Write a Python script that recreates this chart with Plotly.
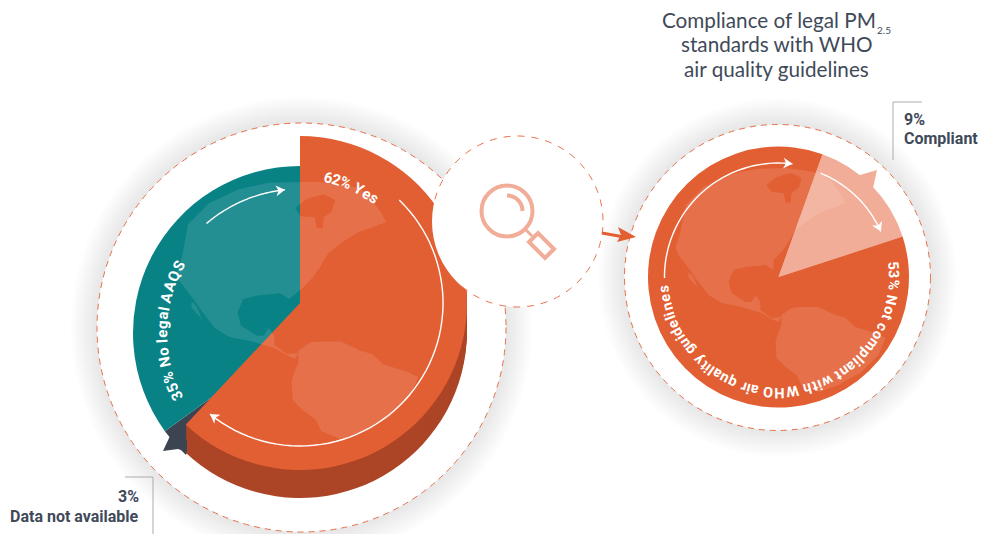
import numpy as np
import plotly.graph_objects as go

# ---- data ----
aaqs_labels = ["Yes", "Data not available", "No legal AAQS"]
aaqs_values = [62, 3, 35]
who_labels = ["Compliant", "Not compliant with WHO air quality guidelines"]
who_values = [9, 53]

W, H = 982, 534
ORANGE, DARK, TEAL, SLATE, PALE = "#E25F33", "#AC4526", "#098286", "#3D4451", "#F1AD98"
TXT = "#3F4A59"
CLEAR = "rgba(0,0,0,0)"
fig = go.Figure()
# invisible carrier of the pixel-space overlay axes
fig.add_trace(go.Scatter(x=[0, W], y=[0, H], mode="none", hoverinfo="skip", showlegend=False))


def add_pie(cx, cy, r, values, labels, colors, rotation=0):
    fig.add_trace(go.Pie(values=values, labels=labels, sort=False, direction="clockwise", rotation=rotation,
                         marker=dict(colors=colors, line=dict(width=0)), textinfo="none", showlegend=False,
                         hoverinfo="label+value",
                         domain=dict(x=[(cx - r) / W, (cx + r) / W], y=[1 - (cy + r) / H, 1 - (cy - r) / H])))


# left: teal + slate wedge sit lower, orange on a raised block
add_pie(300, 333, 167, aaqs_values, aaqs_labels, [CLEAR, SLATE, TEAL])
for d in range(28, 0, -2):
    add_pie(300, 303 + d, 167, aaqs_values, aaqs_labels, [DARK, CLEAR, CLEAR])
add_pie(300, 303, 167, aaqs_values, aaqs_labels, [ORANGE, CLEAR, CLEAR])
# right
add_pie(778.5, 277, 130.5, who_values, who_labels, [PALE, ORANGE], rotation=19.7)

shapes = []


def poly(pts, fill, close=True, layer="above", **line):
    p = "M" + " L".join(f"{x:.1f},{y:.1f}" for x, y in pts) + (" Z" if close else "")
    shapes.append(dict(type="path", path=p, xref="x", yref="y", layer=layer, fillcolor=fill,
                       line=dict(width=line.get("width", 0), color=line.get("color", CLEAR), dash=line.get("dash", "solid"))))


def circle(cx, cy, r, fill, layer="below", width=0, color=CLEAR, dash="solid"):
    shapes.append(dict(type="circle", xref="x", yref="y", x0=cx - r, x1=cx + r, y0=cy - r, y1=cy + r, layer=layer,
                       fillcolor=fill, line=dict(width=width, color=color, dash=dash)))


def arc(cx, cy, r, a0, a1, n=60):
    t = np.radians(np.linspace(a0, a1, n))
    return list(zip(cx + r * np.sin(t), cy - r * np.cos(t)))


def halo(cx, cy, r):
    for i in range(12, 0, -1):
        circle(cx, cy, r + 2.2 * i, "rgba(0,0,0,0.007)")
    circle(cx, cy, r, "#FFFFFF", width=1, color="#E8704A", dash="6px,5px")


halo(301.5, 327.5, 204.5)
halo(777.5, 277.5, 153)

# continents, traced around the globe centre (pixel offsets on the right-hand globe)
north_america = [(-93,-72),(-75,-90),(-50,-102),(-23,-108),(7,-109),(23,-107),(42,-104),(52,-97),(63,-82),(67,-74),
                 (57,-70),(43,-65),(30,-57),(17,-47),(10,-35),(3,-25),(-5,-17),(-5,-7),(-13,-12),(-33,-10),(-45,-7),
                 (-50,5),(-47,16),(-33,25),(-27,25),(-23,18),(-18,25),(-18,33),(-7,41),(3,40),(0,45),(-5,43),
                 (-17,36),(-37,30),(-57,26),(-70,18),(-80,5),(-90,-9),(-100,-22),(-103,-29),(-98,-45)]
hudson_bay = [(-12,-92),(-2,-100),(13,-104),(23,-99),(20,-89),(13,-84),(12,-74),(7,-75),(5,-84),(-7,-85)]
baja = [(-90,-5),(-85,0),(-80,13),(-83,8),(-90,1)]
south_america = [(3,38),(13,31),(23,30),(40,30),(57,38),(67,41),(77,50),(97,56),(107,61),(100,78),(83,95),(60,108),
                 (40,115),(23,108),(18,98),(7,90),(-2,81),(-3,65),(0,55),(3,48)]


def continents(cx, cy, s, east_shift=0):
    path = ""
    for ring in (north_america, hudson_bay, baja, south_america):
        pts = [(x + (east_shift if (x >= -15 and y < -15) else 0), y + (east_shift / 2 if ring is hudson_bay else 0))
               for x, y in ring]
        path += "M" + " L".join(f"{cx + s * x:.1f},{cy + s * y:.1f}" for x, y in pts) + " Z "
    shapes.append(dict(type="path", path=path, xref="x", yref="y", layer="above", fillcolor="rgba(255,255,255,0.11)",
                       fillrule="evenodd", line=dict(width=0)))


continents(295, 307, 1.15, east_shift=12)
continents(778.5, 277, 1.0)

# slate pointer and pale pointer
poly([(170, 436), (163, 451), (178, 449), (187, 452), (187, 440)], SLATE)
poly([(860, 175), (877, 170), (873, 188), (868, 195), (855, 180)], PALE)


def curved_arrow(cx, cy, r, a0, a1):
    pts = arc(cx, cy, r, a0, a1)
    poly(pts, CLEAR, close=False, color="#FFFFFF", width=1.4)
    tip = np.array(pts[-1])
    u = tip - np.array(pts[-4])
    u = u / np.linalg.norm(u)
    n = np.array([-u[1], u[0]])
    poly([tuple(tip), tuple(tip - 9 * u + 5.5 * n), tuple(tip - 6.5 * u), tuple(tip - 9 * u - 5.5 * n)], "#FFFFFF")


curved_arrow(300, 333, 144, -40.5, -6)
curved_arrow(300, 303, 143, 44, 219)
curved_arrow(778.5, 277, 114, -90.5, 7)
curved_arrow(778.5, 277, 112, 22, 66)

# magnifier disc
circle(517.5, 221.5, 85.5, "#FFFFFF", layer="above")
poly(arc(517.5, 221.5, 85.5, -75, 222, 160), CLEAR, close=False, color="#E8704A", width=1, dash="7px,7px")
circle(507, 211, 25.5, CLEAR, layer="above", width=4, color=PALE)
poly(arc(507, 211, 15.5, 0, 90, 20), CLEAR, close=False, color=PALE, width=4)
poly([(525, 229), (532, 236)], CLEAR, close=False, color=PALE, width=3)
poly([(529, 242), (538, 233), (554, 249), (545, 258)], "#FFFFFF", color=PALE, width=4)

# link arrow
poly([(602, 233), (624, 237)], CLEAR, close=False, color=ORANGE, width=3)
poly([(618, 227), (636, 237), (617, 242), (621, 235)], ORANGE)

# call-out rules
poly([(125, 477), (153, 477), (153, 534)], CLEAR, close=False, color="#ABABAB", width=1)
poly([(922, 102), (893, 102), (893, 160)], CLEAR, close=False, color="#ABABAB", width=1)

# ---- text ----
ann = []


def label(x, y, text, size, font="Roboto", color=TXT, anchor="center", bold=False, angle=0):
    t = f"<b>{text}</b>" if bold else text
    ann.append(dict(x=x, y=y, xref="x", yref="y", text=t, showarrow=False, xanchor=anchor, yanchor="middle",
                    textangle=angle, font=dict(family=font, size=size, color=color)))


label(769, 20, "Compliance of legal PM", 20.7, font="Lato")
label(776.5, 44, "standards with WHO", 20.7, font="Lato")
label(776.5, 69, "air quality guidelines", 20.7, font="Lato")
label(884, 30, "2.5", 10, font="Lato")
label(141, 496, "3%", 16, anchor="right", bold=True)
label(141, 516, "Data not available", 16, anchor="right", bold=True)
label(902, 119, "9%", 16, anchor="left", bold=True)
label(902, 138, "Compliant", 16, anchor="left", bold=True)

EM = {" ": .25, "%": .73, "i": .27, "l": .27, "t": .35, "r": .37, "f": .35, "j": .27, "w": .76, "m": .87, "W": .88,
      "A": .67, "Q": .69, "O": .69, "H": .71, "N": .71, "S": .62, "Y": .65}


def curved(text, cx, cy, r, a0, a1, size):
    w = np.array([EM.get(c, .56) for c in text]) * size
    edges = np.concatenate([[0], np.cumsum(w)])
    mids = (edges[:-1] + edges[1:]) / 2 / edges[-1]
    for c, m in zip(text, mids):
        if c == " ":
            continue
        a = a0 + (a1 - a0) * m
        t = np.radians(a)
        label(cx + r * np.sin(t), cy - r * np.cos(t), c, size, color="#FFFFFF", bold=True, angle=((a + 180) % 360) - 180)


curved("62% Yes", 300, 303, 128, 11, 37, 15)
curved("35% No legal AAQS", 300, 333, 138, 241, 301, 15)
curved("53% Not compliant with WHO air quality guidelines", 778.5, 277, 115, 82, 266, 14.5)

fig.update_layout(width=W, height=H, autosize=False, margin=dict(l=0, r=0, t=0, b=0), paper_bgcolor="white",
                  plot_bgcolor="rgba(0,0,0,0)", shapes=shapes, annotations=ann, showlegend=False,
                  xaxis=dict(range=[0, W], visible=False, fixedrange=True),
                  yaxis=dict(range=[H, 0], visible=False, fixedrange=True))
fig.write_html("out.html", config=dict(displayModeBar=False),
               post_script="document.documentElement.style.overflow='hidden';document.body.style.margin='0';")
